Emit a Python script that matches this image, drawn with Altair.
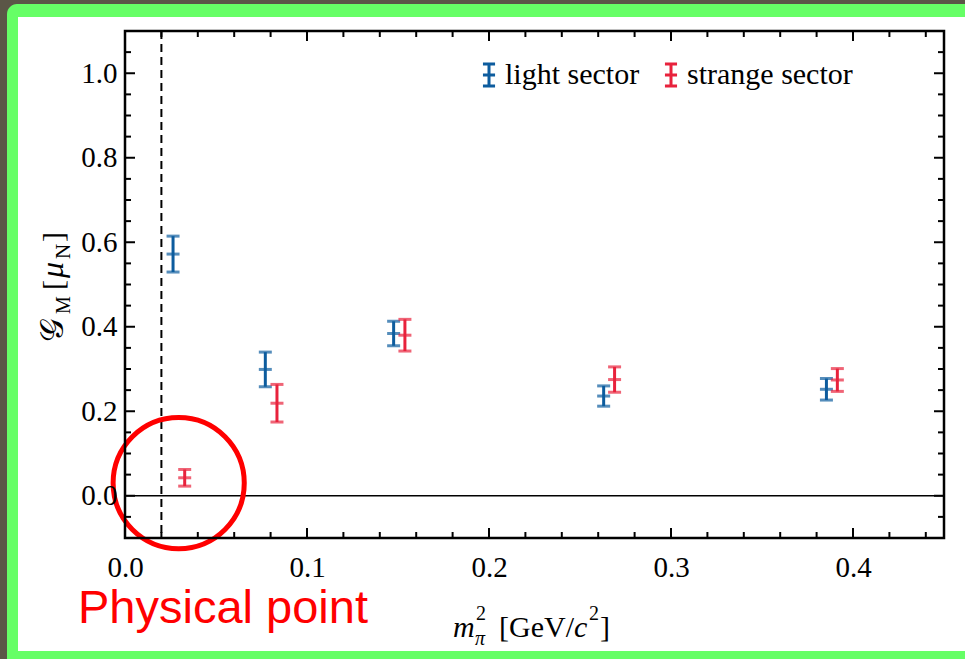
import altair as alt
import pandas as pd

# Magnetic form factor G_M vs m_pi^2 for the light and strange sectors
light_x = [0.0264, 0.0771, 0.1476, 0.2630, 0.3854]
light_y = [0.572, 0.299, 0.384, 0.236, 0.252]
light_err = [0.0425, 0.041, 0.029, 0.024, 0.0255]

strange_x = [0.0328, 0.0835, 0.1538, 0.2690, 0.3914]
strange_y = [0.0425, 0.219, 0.380, 0.275, 0.274]
strange_err = [0.0197, 0.0445, 0.0375, 0.030, 0.027]

sectors = ["light sector", "strange sector"]
sector_colors = ["#0d5c9e", "#e8223c"]

physical_mpi2 = 0.02          # physical pion mass squared (dashed line)
physical_circle = [0.0295, 0.030]

x_labels = [0.0, 0.1, 0.2, 0.3, 0.4]
y_labels = [0.0, 0.2, 0.4, 0.6, 0.8, 1.0]
x_major = [0.1, 0.2, 0.3, 0.4]
x_minor = [0.02, 0.04, 0.06, 0.08, 0.12, 0.14, 0.16, 0.18, 0.22, 0.24, 0.26,
           0.28, 0.32, 0.34, 0.36, 0.38, 0.42, 0.44]
y_major = [0.0, 0.2, 0.4, 0.6, 0.8, 1.0]
y_minor = [-0.05, 0.05, 0.1, 0.15, 0.25, 0.3, 0.35, 0.45, 0.5, 0.55, 0.65,
           0.7, 0.75, 0.85, 0.9, 0.95, 1.05]

# layout (pixels)
PAD_L, PAD_T = 125, 31
W, H = 819, 507
SERIF = "Liberation Serif"
MAJ, MIN = 10, 6

rows = []
for name, xs_, ys_, es_ in [(sectors[0], light_x, light_y, light_err),
                            (sectors[1], strange_x, strange_y, strange_err)]:
    for x, y, e in zip(xs_, ys_, es_):
        rows.append({"sector": name, "x": x, "y": y, "lo": y - e, "hi": y + e})
points = pd.DataFrame(rows)

xs = alt.Scale(domain=[0, 0.45], nice=False, zero=False)
ys = alt.Scale(domain=[-0.1, 1.1], nice=False, zero=False)
color = alt.Scale(domain=sectors, range=sector_colors)

X_AXIS = alt.Axis(
    values=x_labels, format=".1f", ticks=False, domain=False, grid=False,
    labelFont=SERIF, labelFontSize=29, labelColor="black", labelPadding=15,
    labelFlush=False, labelOverlap=False, title=None, zindex=5)
Y_AXIS = alt.Axis(
    values=y_labels, format=".1f", ticks=False, domain=False, grid=False,
    labelFont=SERIF, labelFontSize=29, labelColor="black", labelPadding=8,
    labelFlush=False, labelOverlap=False, title=None, zindex=5)

def X(field):
    return alt.X(field, scale=xs, axis=X_AXIS, title=None)

def Y(field):
    return alt.Y(field, scale=ys, axis=Y_AXIS, title=None)

# page background: green slide border around a white sheet
def bg_rect(x1, x2, y1, y2, fill, radius=0):
    return alt.Chart(pd.DataFrame({"k": [0]})).mark_rect(
        fill=fill, cornerRadius=radius
    ).encode(x=alt.value(x1 - PAD_L), x2=alt.value(x2 - PAD_L),
             y=alt.value(y1 - PAD_T), y2=alt.value(y2 - PAD_T))

green = bg_rect(7, 1000, 4, 720, "#66ff66", radius=10)
white = bg_rect(18, 1000, 17, 651, "white")

# inward ticks on all four sides
def xticks(vals, length):
    base = alt.Chart(pd.DataFrame({"v": vals})).mark_rule(color="black", strokeWidth=2)
    return [base.encode(x=X("v:Q"), y=alt.value(H), y2=alt.value(H - length)),
            base.encode(x=X("v:Q"), y=alt.value(0), y2=alt.value(length))]

def yticks(vals, length):
    base = alt.Chart(pd.DataFrame({"v": vals})).mark_rule(color="black", strokeWidth=2)
    return [base.encode(y=Y("v:Q"), x=alt.value(0), x2=alt.value(length)),
            base.encode(y=Y("v:Q"), x=alt.value(W), x2=alt.value(W - length))]

ticks = xticks(x_major, MAJ) + xticks(x_minor, MIN) + yticks(y_major, MAJ) + yticks(y_minor, MIN)

zero_line = alt.Chart(pd.DataFrame({"y": [0.0]})).mark_rule(
    color="black", strokeWidth=1.5
).encode(y=Y("y:Q"))

phys_line = alt.Chart(pd.DataFrame({"x": [physical_mpi2]})).mark_rule(
    color="black", strokeWidth=2, strokeDash=[8, 5]
).encode(x=X("x:Q"))

legend = alt.Legend(
    orient="none", legendX=349, legendY=29, direction="horizontal", title=None,
    symbolType="M-0.55,-1H0.55M0,-1V1M-0.55,0H0.55M-0.55,1H0.55",
    symbolSize=484, symbolStrokeWidth=3, labelFont=SERIF, labelFontSize=30,
    labelColor="black", labelOffset=1, columnPadding=16, padding=0, labelLimit=400,
    zindex=5,
)

bars = alt.Chart(points).mark_rule(strokeWidth=3).encode(
    x=X("x:Q"), y=Y("lo:Q"), y2="hi:Q",
    color=alt.Color("sector:N", scale=color, legend=legend),
)

caps = alt.Chart(points).transform_fold(["lo", "hi", "y"]).mark_tick(
    orient="horizontal", size=13, thickness=3
).encode(
    x=X("x:Q"), y=Y("value:Q"),
    color=alt.Color("sector:N", scale=color, legend=None),
)

circle = alt.Chart(pd.DataFrame({"x": [physical_circle[0]], "y": [physical_circle[1]]})).mark_point(
    shape="circle", size=17200, filled=False, stroke="#ff0000", strokeWidth=5, opacity=1
).encode(x=X("x:Q"), y=Y("y:Q"))

frame = alt.Chart(pd.DataFrame({"k": [0]})).mark_rect(
    fill=None, stroke="black", strokeWidth=2.5
).encode(x=alt.value(0), x2=alt.value(W), y=alt.value(0), y2=alt.value(H))

def label(text, x_abs, y_abs, size, style="normal", family=SERIF, angle=0, color="black"):
    return alt.Chart(pd.DataFrame({"t": [text]})).mark_text(
        align="left", baseline="alphabetic", font=family, fontSize=size,
        fontStyle=style, angle=angle, color=color
    ).encode(x=alt.value(x_abs - PAD_L), y=alt.value(y_abs - PAD_T), text="t:N")

# y title: G_M [mu_N], rotated
y_title = [
    label("𝒢", 63, 342, 33, angle=270),
    label("M", 70, 314, 20, angle=270),
    label("[", 63, 290, 30, angle=270),
    label("μ", 63, 278, 32, style="italic", angle=270),
    label("N", 70, 259, 21, angle=270),
    label("]", 63, 242, 30, angle=270),
]

# x title: m_pi^2 [GeV/c^2]
x_title = [
    label("m", 453, 637, 30, style="italic"),
    label("π", 475, 645, 20, style="italic"),
    label("2", 476, 620, 20),
    label("[GeV/", 499, 637, 30),
    label("c", 574, 637, 30, style="italic"),
    label("2", 589, 620, 20),
    label("]", 600, 637, 30),
]

note = label("Physical point", 78, 623, 47, family="Liberation Sans", color="#ff0000")

chart = alt.layer(
    green, white, *ticks, zero_line, phys_line, bars, caps, circle, frame,
    *y_title, *x_title, note
).properties(
    width=W, height=H, background="#5b5647",
    padding={"left": PAD_L, "top": PAD_T, "right": 965 - PAD_L - W, "bottom": 659 - PAD_T - H},
    autosize=alt.AutoSizeParams(type="none"),
).configure_view(stroke=None)

chart.save("out.html", embed_options={"renderer": "svg", "actions": False})
